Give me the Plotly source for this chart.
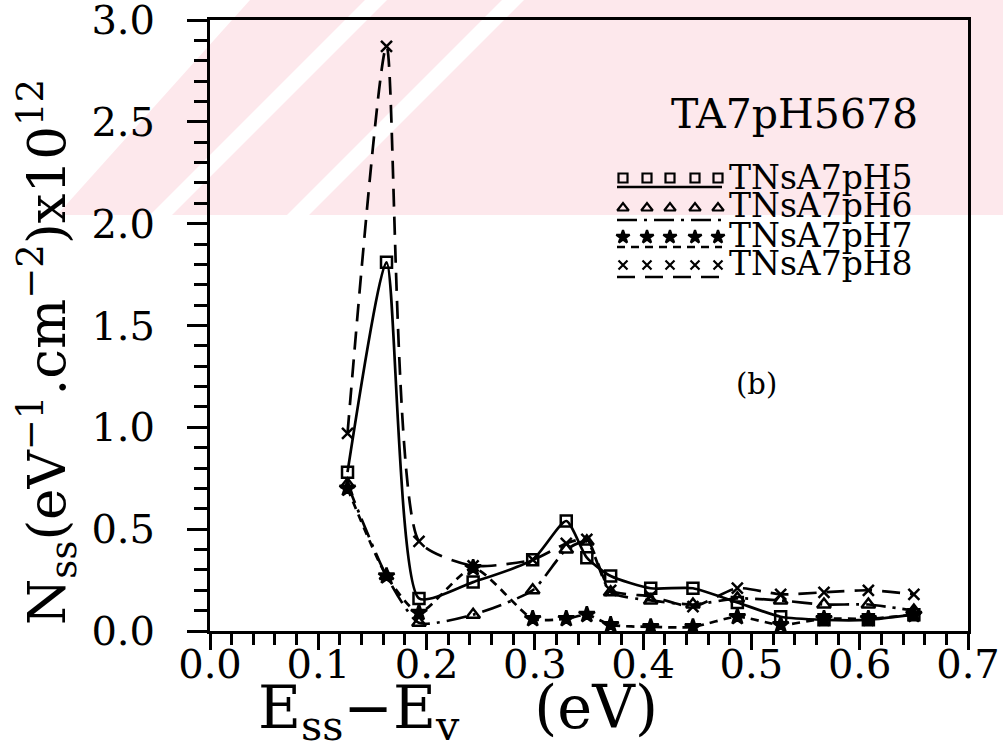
import plotly.graph_objects as go

# Surface-state energy positions (eV above the valence band edge)
energy = [0.127, 0.163, 0.193, 0.243, 0.298, 0.329, 0.348, 0.370, 0.407,
          0.446, 0.487, 0.527, 0.567, 0.608, 0.650]

# Interface state density, units of 1e12 eV^-1 cm^-2
nss_ph5 = [0.78, 1.81, 0.16, 0.24, 0.35, 0.54, 0.36, 0.27, 0.21,
           0.21, 0.14, 0.07, 0.055, 0.055, 0.08]
nss_ph6 = [0.72, 0.27, 0.04, 0.08, 0.20, 0.40, 0.44, 0.19, 0.15,
           0.13, 0.16, 0.15, 0.13, 0.13, 0.10]
nss_ph7 = [0.70, 0.27, 0.09, 0.31, 0.06, 0.06, 0.08, 0.03, 0.02,
           0.02, 0.07, 0.03, 0.06, 0.06, 0.08]
nss_ph8 = [0.97, 2.87, 0.44, 0.32, 0.35, 0.43, 0.45, 0.20, 0.17,
           0.12, 0.21, 0.18, 0.19, 0.20, 0.18]

series_names = ["TNsA7pH5", "TNsA7pH6", "TNsA7pH7", "TNsA7pH8"]
x_ticks = [0.0, 0.1, 0.2, 0.3, 0.4, 0.5, 0.6, 0.7]
y_ticks = [0.0, 0.5, 1.0, 1.5, 2.0, 2.5, 3.0]

W, H = 1003, 754
ML, MR, MT, MB = 210, 35, 20, 123
PW, PH = W - ML - MR, H - MT - MB


def px(xp):
    return (xp - ML) / PW


def py(yp):
    return (H - MB - yp) / PH


styles = [
    dict(symbol="square-open", size=11, dash="solid"),
    dict(symbol="triangle-up-open", size=12, dash="20px,7px,3px,7px"),
    dict(symbol="star", size=12, dash="8px,6px"),
    dict(symbol="x-thin", size=11, dash="18px,10px"),
]
values = [nss_ph5, nss_ph6, nss_ph7, nss_ph8]

fig = go.Figure()

for name, vals, st in zip(series_names, values, styles):
    fig.add_trace(go.Scatter(
        x=energy, y=vals, name=name, mode="lines+markers",
        line=dict(color="black", width=2.7, dash=st["dash"],
                  shape="spline", smoothing=0.6),
        marker=dict(symbol=st["symbol"], size=st["size"], color="black",
                    line=dict(color="black", width=2.5)),
        showlegend=False, cliponaxis=True,
    ))

# Key: five sample markers above an offset line for each series
key_x = [px(v) for v in (623, 647, 670, 695, 718)]
key_marker_y = [py(v) for v in (178, 208, 237, 265)]
key_line_y = [py(v) for v in (187, 220, 247, 277)]
key_text_y = [py(v) for v in (178, 206, 235, 263)]
shapes = []
annotations = []
for i, (name, st) in enumerate(zip(series_names, styles)):
    fig.add_trace(go.Scatter(
        x=key_x, y=[key_marker_y[i]] * len(key_x), mode="markers",
        xaxis="x2", yaxis="y2", showlegend=False, hoverinfo="skip",
        marker=dict(symbol=st["symbol"], size=st["size"] - 2, color="black",
                    line=dict(color="black", width=2.2)),
    ))
    shapes.append(dict(type="line", xref="paper", yref="paper",
                       x0=px(617), x1=px(722), y0=key_line_y[i], y1=key_line_y[i],
                       line=dict(color="black", width=2.5, dash=st["dash"])))
    annotations.append(dict(text=name, xref="paper", yref="paper",
                            x=px(727), y=key_text_y[i], xanchor="left",
                            yanchor="middle", showarrow=False,
                            font=dict(family="DejaVu Serif", size=33,
                                      color="black")))

annotations.append(dict(text="TA7pH5678", xref="paper", yref="paper",
                        x=px(794), y=py(114), xanchor="center", yanchor="middle",
                        showarrow=False,
                        font=dict(family="DejaVu Serif", size=41, color="black")))
annotations.append(dict(text="(b)", xref="paper", yref="paper",
                        x=px(756), y=py(384), xanchor="center", yanchor="middle",
                        showarrow=False,
                        font=dict(family="DejaVu Serif", size=29, color="black")))
annotations.append(dict(
    text="N<sub>ss</sub>(eV<sup>\u22121</sup>.cm<sup>\u22122</sup>)x10<sup>12</sup>",
    xref="paper", yref="paper", x=px(47), y=py(352), textangle=-90,
    xanchor="center", yanchor="middle", showarrow=False,
    font=dict(family="DejaVu Serif", size=53, color="black")))
annotations.append(dict(
    text="E<sub>ss</sub>\u2212E<sub>v</sub>&nbsp;&nbsp;&nbsp;&nbsp;(eV)",
    xref="paper", yref="paper", x=px(458), y=py(711),
    xanchor="center", yanchor="middle", showarrow=False,
    font=dict(family="DejaVu Serif", size=59, color="black")))

# Faint pink watermark band across the top of the page
pink = "#fde8ec"
wm = "M {} {} L {} {} L {} {} L {} {} Z".format(px(57), py(215), px(250), py(0),
                                                px(1003), py(0), px(1003), py(215))
shapes.insert(0, dict(type="path", xref="paper", yref="paper", layer="below",
                      path=wm, fillcolor=pink, line=dict(width=0)))
for x_bottom in (150, 287):
    p = "M {} {} L {} {} L {} {} L {} {} Z".format(
        px(x_bottom), py(215), px(x_bottom + 22), py(215),
        px(x_bottom + 22 + 215), py(0), px(x_bottom + 215), py(0))
    shapes.insert(1, dict(type="path", xref="paper", yref="paper", layer="below",
                          path=p, fillcolor="white", line=dict(width=0)))

axis_font = dict(family="DejaVu Serif", size=40, color="black")

fig.update_layout(
    width=W, height=H,
    margin=dict(l=ML, r=MR, t=MT, b=MB, autoexpand=False),
    paper_bgcolor="rgba(0,0,0,0)", plot_bgcolor="rgba(0,0,0,0)",
    shapes=shapes, annotations=annotations,
    xaxis=dict(range=[0, 0.7], tickvals=x_ticks, tickformat=".1f",
               showgrid=False, zeroline=False, automargin=False,
               showline=True, linecolor="black", linewidth=3, mirror=True,
               ticks="outside", ticklen=16, tickwidth=2.5, tickcolor="black",
               minor=dict(dtick=0.02, ticks="outside", ticklen=11,
                          tickwidth=2.5, tickcolor="black", showgrid=False),
               tickfont=axis_font, ticklabelstandoff=-20,
               ticklabeloverflow="allow"),
    yaxis=dict(range=[0, 3.0], tickvals=y_ticks, tickformat=".1f",
               showgrid=False, zeroline=False, automargin=False,
               showline=True, linecolor="black", linewidth=3, mirror=True,
               ticks="outside", ticklen=20, tickwidth=2.5, tickcolor="black",
               minor=dict(dtick=0.1, ticks="outside", ticklen=13,
                          tickwidth=2.5, tickcolor="black", showgrid=False),
               tickfont=axis_font, ticklabelstandoff=24,
               ticklabeloverflow="allow"),
    xaxis2=dict(range=[0, 1], overlaying="x", visible=False),
    yaxis2=dict(range=[0, 1], overlaying="y", visible=False),
)

fig.write_html("out.html")
